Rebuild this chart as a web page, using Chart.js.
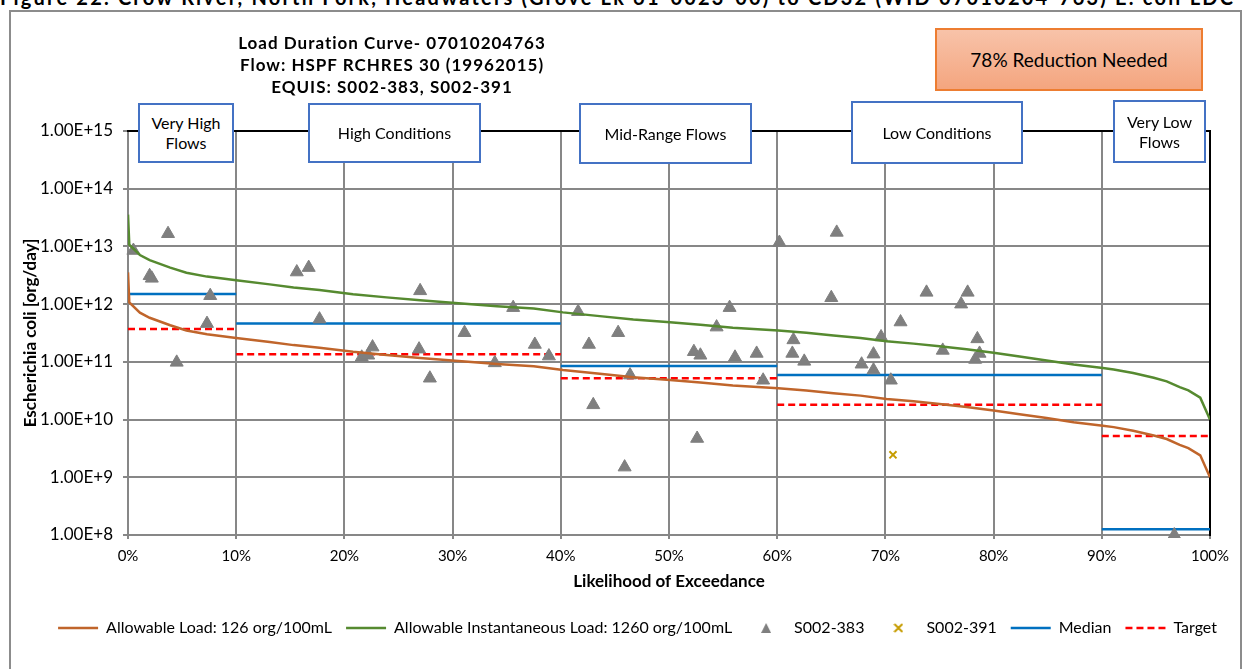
<!DOCTYPE html>
<html>
<head>
<meta charset="utf-8">
<script src="https://cdn.jsdelivr.net/npm/chart.js@4.4.1/dist/chart.umd.min.js"></script>
<style>
  body { margin: 0; background: #fff; font-family: Lato, "Open Sans", sans-serif; }
  #wrap { position: relative; width: 1244px; height: 669px; overflow: hidden; }
  #frame { position: absolute; left: 9px; top: 10px; width: 1229px; height: 700px; border: 2px solid #8c8c8c; }
  #caption { position: absolute; left: 0; top: -15px; font-weight: bold; font-size: 20px; letter-spacing: 2.2px; white-space: nowrap; }
  canvas { position: absolute; left: 0; top: 0; }
  #title { position: absolute; left: 142px; width: 500px; top: 32px; text-align: center; font-weight: bold;
           font-size: 17px; letter-spacing: 1px; line-height: 22px; }
  .flow { position: absolute; background: #fff; border: 2px solid #4472c4; box-sizing: border-box;
          display: flex; align-items: center; justify-content: center; text-align: center; font-size: 16px; line-height: 20px; }
  #reduction { position: absolute; left: 935px; top: 28px; width: 268px; height: 63px; box-sizing: border-box;
               border: 2px solid #ed7d31; background: linear-gradient(#f8c3a9, #f4a57f);
               display: flex; align-items: center; justify-content: center; font-size: 19px; }
</style>
</head>
<body>
<div id="wrap">
  <div id="frame"></div>
  <div id="caption">Figure 22. Crow River, North Fork, Headwaters (Grove Lk 61-0023-00) to CD32 (WID 07010204-763) E. coli LDC</div>
  <canvas id="ldc" width="1244" height="669"></canvas>
  <div id="title">Load Duration Curve- 07010204763<br>Flow: HSPF RCHRES 30 (19962015)<br>EQUIS: S002-383, S002-391</div>
  <div class="flow" style="left:138px;top:103px;width:96px;height:60px;">Very High<br>Flows</div>
  <div class="flow" style="left:308px;top:103px;width:173px;height:60px;">High Conditions</div>
  <div class="flow" style="left:579px;top:103px;width:173px;height:61px;">Mid-Range Flows</div>
  <div class="flow" style="left:851px;top:101px;width:172px;height:63px;">Low Conditions</div>
  <div class="flow" style="left:1113px;top:100px;width:93px;height:63px;">Very Low<br>Flows</div>
  <div id="reduction">78% Reduction Needed</div>
</div>
<script>
// flow exceedance (%) for the duration curves
const curveX = [0, 0.12, 1.1, 2.0, 3.9, 5.4, 7.3, 10, 13.1, 15.3, 17.7, 20.8, 23.9, 27, 34.1, 37.5,
  40.2, 43.6, 46.7, 49.8, 52.9, 55.9, 60.1, 62.7, 65.2, 67.7, 70.1, 72.6, 75, 77.5, 80, 82.4,
  84.9, 87.4, 90.1, 91.1, 92.9, 94.8, 96, 97.2, 98, 99.1, 100];
// Allowable Load: 126 org/100mL
const allowableLoad = [3.55e12, 1.07e12, 7.1e11, 5.8e11, 4.3e11, 3.5e11, 3.0e11, 2.6e11, 2.2e11, 1.95e11,
  1.75e11, 1.49e11, 1.31e11, 1.17e11, 9.2e10, 8.4e10, 7.2e10, 6.2e10, 5.4e10, 4.9e10, 4.4e10, 3.9e10,
  3.5e10, 3.2e10, 2.85e10, 2.6e10, 2.27e10, 2.07e10, 1.86e10, 1.65e10, 1.44e10, 1.24e10, 1.06e10,
  9.0e9, 7.8e9, 7.4e9, 6.4e9, 5.3e9, 4.6e9, 3.65e9, 3.2e9, 2.4e9, 1.0e9];
// Allowable Instantaneous Load: 1260 org/100mL
const instantLoad = [3.55e13, 1.07e13, 7.1e12, 5.8e12, 4.3e12, 3.5e12, 3.0e12, 2.6e12, 2.2e12, 1.95e12,
  1.75e12, 1.49e12, 1.31e12, 1.17e12, 9.2e11, 8.4e11, 7.2e11, 6.2e11, 5.4e11, 4.9e11, 4.4e11, 3.9e11,
  3.5e11, 3.2e11, 2.85e11, 2.6e11, 2.27e11, 2.07e11, 1.86e11, 1.65e11, 1.44e11, 1.24e11, 1.06e11,
  9.0e10, 7.8e10, 7.4e10, 6.4e10, 5.3e10, 4.6e10, 3.65e10, 3.2e10, 2.4e10, 1.0e10];

// samples at S002-383
const s383X = [0.5, 3.7, 2.0, 2.2, 7.6, 7.3, 4.5, 15.6, 16.7, 17.7, 22.6, 21.6, 22.2, 27.0, 26.9, 27.9,
  31.1, 33.9, 35.6, 37.6, 38.9, 41.6, 42.6, 43.0, 45.3, 45.9, 46.4, 52.3, 52.9, 52.6, 54.4, 55.6,
  56.1, 58.1, 58.7, 60.2, 61.5, 61.4, 62.5, 65.5, 65.0, 67.8, 68.9, 68.9, 69.6, 70.5, 71.4, 73.8,
  75.3, 77.0, 77.6, 78.5, 78.7, 78.3, 96.7];
const s383Y = [8.5e12, 1.66e13, 3.1e12, 2.8e12, 1.4e12, 4.6e11, 9.8e10, 3.6e12, 4.3e12, 5.5e11, 1.8e11,
  1.2e11, 1.3e11, 1.7e12, 1.66e11, 5.2e10, 3.2e11, 9.6e10, 8.7e11, 2.0e11, 1.26e11, 7.4e11, 2.0e11,
  1.8e10, 3.2e11, 1.5e9, 5.9e10, 1.5e11, 1.3e11, 4.7e9, 4.0e11, 8.7e11, 1.2e11, 1.4e11, 4.8e10,
  1.17e13, 2.4e11, 1.4e11, 1.02e11, 1.75e13, 1.29e12, 9.1e10, 1.36e11, 7.2e10, 2.7e11, 4.8e10,
  4.9e11, 1.6e12, 1.58e11, 1.0e12, 1.6e12, 2.5e11, 1.4e11, 1.1e11, 1.0e8];
// samples at S002-391
const s391X = [70.7];
const s391Y = [2.45e9];

// flow zone breaks and per-zone median / target loads
const zoneBreaks = [0, 10, 40, 60, 90, 100];
const medianLoad = [1.5e12, 4.6e11, 8.5e10, 5.9e10, 1.26e8];
const targetLoad = [3.7e11, 1.35e11, 5.2e10, 1.8e10, 5.2e9];

const yTicks = [1e8, 1e9, 1e10, 1e11, 1e12, 1e13, 1e14, 1e15];

function toPoints(xs, ys) {
    return xs.map((x, i) => ({ x: x, y: ys[i] }));
}

// step segments, one per flow zone, broken by gaps
function zoneSegments(vals) {
    const pts = [];
    vals.forEach((v, i) => {
        pts.push({ x: zoneBreaks[i], y: v });
        pts.push({ x: zoneBreaks[i + 1], y: v });
        pts.push({ x: zoneBreaks[i + 1], y: null });
    });
    return pts;
}

// small legend symbols (the built-in ones get stretched to the legend box width)
function triangleIcon(color) {
    const c = document.createElement("canvas");
    c.width = 10;
    c.height = 10;
    const g = c.getContext("2d");
    g.fillStyle = color;
    g.beginPath();
    g.moveTo(5, 0);
    g.lineTo(10, 10);
    g.lineTo(0, 10);
    g.closePath();
    g.fill();
    return c;
}

function crossIcon(color) {
    const c = document.createElement("canvas");
    c.width = 10;
    c.height = 10;
    const g = c.getContext("2d");
    g.strokeStyle = color;
    g.lineWidth = 2;
    g.beginPath();
    g.moveTo(1, 1);
    g.lineTo(9, 9);
    g.moveTo(9, 1);
    g.lineTo(1, 9);
    g.stroke();
    return c;
}

const gridColor = "#878787";
const font = "Lato, 'Open Sans', sans-serif";
const legendIcons = { 2: triangleIcon("#7f7f7f"), 3: crossIcon("#c69c00") };

new Chart(document.getElementById("ldc"), {
    type: "scatter",
    data: {
        datasets: [
            {
                label: "Allowable Load: 126 org/100mL",
                data: toPoints(curveX, allowableLoad),
                showLine: true,
                borderColor: "#c0652b",
                backgroundColor: "#c0652b",
                borderWidth: 2.5,
                pointRadius: 0,
                pointStyle: "line",
            },
            {
                label: "Allowable Instantaneous Load: 1260 org/100mL",
                data: toPoints(curveX, instantLoad),
                showLine: true,
                borderColor: "#568a30",
                backgroundColor: "#568a30",
                borderWidth: 2.5,
                pointRadius: 0,
                pointStyle: "line",
            },
            {
                label: "S002-383",
                data: toPoints(s383X, s383Y),
                pointStyle: "triangle",
                pointRadius: 7.5,
                borderWidth: 1,
                borderColor: "#7f7f7f",
                backgroundColor: "#7f7f7f",
                clip: { left: 10, right: 10, top: 10, bottom: 3 },
            },
            {
                label: "S002-391",
                data: toPoints(s391X, s391Y),
                pointStyle: "crossRot",
                pointRadius: 5,
                borderWidth: 2,
                borderColor: "#c69c00",
                backgroundColor: "#c69c00",
            },
            {
                label: "Median",
                data: zoneSegments(medianLoad),
                showLine: true,
                spanGaps: false,
                borderColor: "#0070c0",
                backgroundColor: "#0070c0",
                borderWidth: 2.5,
                pointRadius: 0,
                pointStyle: "line",
            },
            {
                label: "Target",
                data: zoneSegments(targetLoad),
                showLine: true,
                spanGaps: false,
                borderColor: "#ff0000",
                backgroundColor: "#ff0000",
                borderWidth: 2.5,
                borderDash: [7, 4],
                pointRadius: 0,
                pointStyle: "line",
            },
        ],
    },
    options: {
        responsive: false,
        animation: false,
        devicePixelRatio: 1,
        layout: { padding: { left: 10, right: 13, top: 131, bottom: 23 } },
        plugins: {
            tooltip: { enabled: false },
            legend: {
                position: "bottom",
                align: "end",
                labels: {
                    usePointStyle: true,
                    pointStyleWidth: 40,
                    boxHeight: 6,
                    padding: 14,
                    color: "#000",
                    font: { family: font, size: 16 },
                    generateLabels: (chart) => {
                        const items = Chart.defaults.plugins.legend.labels.generateLabels(chart);
                        items.forEach((it) => {
                            const ds = chart.data.datasets[it.datasetIndex];
                            it.lineWidth = ds.borderWidth;
                            it.lineDash = ds.borderDash || [];
                            if (legendIcons[it.datasetIndex]) {
                                it.pointStyle = legendIcons[it.datasetIndex];
                            }
                        });
                        return items;
                    },
                },
            },
        },
        scales: {
            x: {
                type: "linear",
                min: 0,
                max: 100,
                ticks: {
                    stepSize: 10,
                    callback: (v) => v + "%",
                    color: "#000",
                    padding: 8,
                    font: { family: font, size: 15 },
                },
                grid: { color: gridColor, lineWidth: 2, tickLength: 4 },
                border: { color: gridColor, width: 2 },
                title: {
                    display: true,
                    text: "Likelihood of Exceedance",
                    color: "#000",
                    font: { family: font, size: 17, weight: "bold" },
                    padding: { top: 0, bottom: 14 },
                },
                afterFit: (s) => { s.height = 71; },
            },
            y: {
                type: "logarithmic",
                min: 1e8,
                max: 1e15,
                afterBuildTicks: (s) => { s.ticks = yTicks.map((v) => ({ value: v })); },
                ticks: {
                    callback: (v) => Number(v).toExponential(2).toUpperCase(),
                    color: "#000",
                    padding: 10,
                    font: { family: font, size: 17 },
                },
                grid: { color: gridColor, lineWidth: 2, tickLength: 5 },
                border: { color: gridColor, width: 2 },
                title: {
                    display: true,
                    text: "Escherichia coli [org/day]",
                    color: "#000",
                    font: { family: font, size: 17, weight: "bold" },
                    padding: { top: 10, bottom: 0 },
                },
                afterFit: (s) => { s.width = 118; },
            },
            xTop: {
                type: "linear",
                position: "top",
                grid: { display: false, drawTicks: false },
                ticks: { display: false },
                border: { color: "#000", width: 2 },
                afterFit: (s) => { s.height = 0; },
            },
            yRight: {
                type: "linear",
                position: "right",
                grid: { display: false, drawTicks: false },
                ticks: { display: false },
                border: { color: "#000", width: 2 },
                // keeps the plot edge at the same place while the legend runs wider
                afterFit: (s) => { s.width = 21; },
            },
        },
    },
});
</script>
</body>
</html>
